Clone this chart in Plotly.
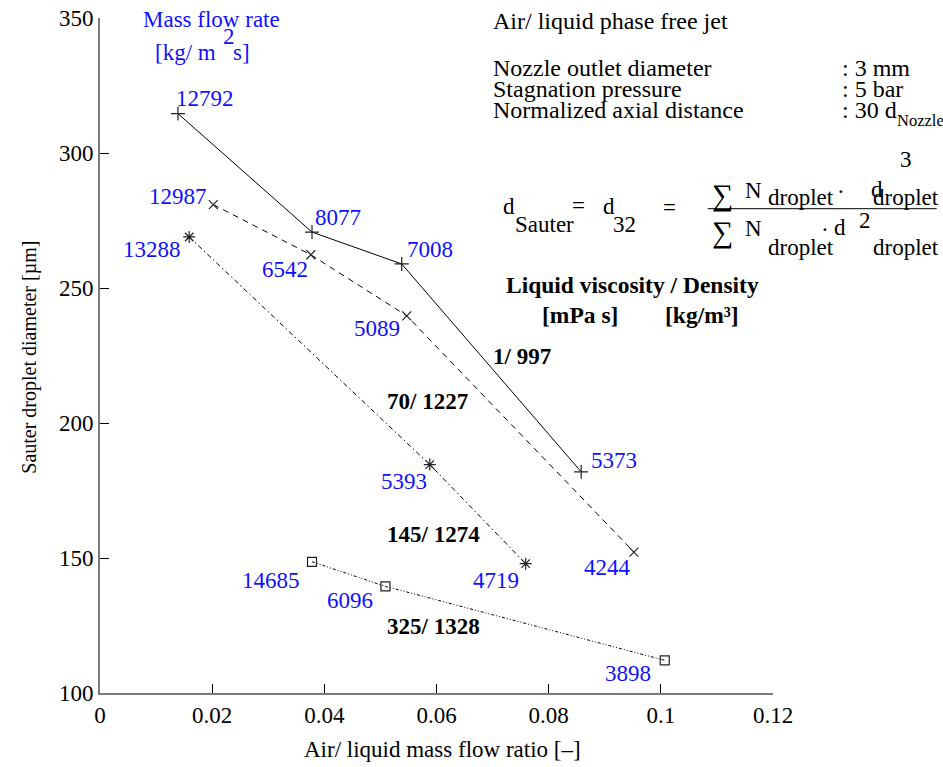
import plotly.graph_objects as go

# ---------------- data ----------------
ratio_1 = [0.0139, 0.0378, 0.0538, 0.0858]
d32_1 = [314.6, 270.7, 258.9, 181.9]
flux_1 = ["12792", "8077", "7008", "5373"]

ratio_2 = [0.0202, 0.0376, 0.0547, 0.0952]
d32_2 = [280.9, 262.3, 239.7, 152.2]
flux_2 = ["12987", "6542", "5089", "4244"]

ratio_3 = [0.0159, 0.0588, 0.0759]
d32_3 = [268.9, 184.6, 147.9]
flux_3 = ["13288", "5393", "4719"]

ratio_4 = [0.0378, 0.0509, 0.1007]
d32_4 = [148.6, 139.5, 112.1]
flux_4 = ["14685", "6096", "3898"]

fluid_labels = ["1/ 997", "70/ 1227", "145/ 1274", "325/ 1328"]

x_ticks = [0, 0.02, 0.04, 0.06, 0.08, 0.1, 0.12]
x_tick_text = ["0", "0.02", "0.04", "0.06", "0.08", "0.1", "0.12"]
y_ticks = [100, 150, 200, 250, 300, 350]

# ---------------- layout geometry ----------------
W, H = 943, 767
L, T, PW, PH = 100, 18.3, 673.3, 675.0
FONT = "Liberation Serif, Times New Roman, serif"
FS = 23
BLUE = "#1010ff"


def px(xp):
    return (xp - L) / PW


def py(yp):
    return (T + PH - yp) / PH


fig = go.Figure()

series = [
    (ratio_1, d32_1, "solid", "cross-thin", 10),
    (ratio_2, d32_2, "6px,5px", "x-thin", 9),
    (ratio_3, d32_3, "5px,3px,1.5px,3px", "asterisk", 10),
    (ratio_4, d32_4, "3px,2px,1px,2px,1px,2px", "square-open", 9),
]
for xs, ys, dash, sym, size in series:
    fig.add_trace(go.Scatter(
        x=xs, y=ys, mode="lines+markers",
        line=dict(color="black", width=1, dash=dash),
        marker=dict(symbol=sym, size=size, color="#222",
                    line=dict(color="#222", width=1.2)),
        showlegend=False, hoverinfo="skip", cliponaxis=False))

annotations = []

# data labels: offsets in pixels (dx, dy up)
label_offsets = [
    [(27, 15), (26, 15), (28, 14), (33, 11)],
    [(-35, 8), (-26, -15), (-30, -13), (-26, -15)],
    [(-37, -13), (-26, -17), (-30, -17)],
    [(-41, -19), (-35, -14), (-37, -13)],
]
for (xs, ys, labs), offs in zip(
        [(ratio_1, d32_1, flux_1), (ratio_2, d32_2, flux_2),
         (ratio_3, d32_3, flux_3), (ratio_4, d32_4, flux_4)], label_offsets):
    for x, y, lab, (dx, dy) in zip(xs, ys, labs, offs):
        annotations.append(dict(x=x, y=y, xref="x", yref="y", text=lab,
                                showarrow=False, xshift=dx, yshift=dy,
                                font=dict(family=FONT, size=FS, color=BLUE)))


def txt(text, x, y, xanchor="left", size=FS, color="black", bold=False, angle=0):
    if bold:
        text = "<b>" + text + "</b>"
    annotations.append(dict(x=px(x), y=py(y), xref="paper", yref="paper",
                            text=text, showarrow=False, xanchor=xanchor,
                            yanchor="middle", textangle=angle,
                            font=dict(family=FONT, size=size, color=color)))


# fluid labels (bold)
fluid_pos = [(522, 357), (428, 402), (434, 535), (434, 627)]
for lab, (x, y) in zip(fluid_labels, fluid_pos):
    txt(lab, x, y, xanchor="center", bold=True)

txt("Liquid viscosity / Density", 633, 285, xanchor="center", bold=True, size=23.5)
txt("[mPa s]", 580, 315, xanchor="center", bold=True, size=23.5)
txt("[kg/m³]", 702, 315, xanchor="center", bold=True, size=23.5)

# mass flow rate header
txt("Mass flow rate", 212, 20, xanchor="center", color=BLUE)
txt("[kg/ m", 153, 53, color=BLUE)
txt("2", 221, 37, color=BLUE)
txt("s]", 231, 53, color=BLUE)

# info block
IS = 24
txt("Air/ liquid phase free jet", 491, 21, size=IS)
txt("Nozzle outlet diameter", 491, 68, size=IS)
txt("Stagnation pressure", 491, 89, size=IS)
txt("Normalized axial distance", 491, 110, size=IS)
txt(": 3 mm", 840, 68, size=IS)
txt(": 5 bar", 840, 89, size=IS)
txt(": 30 d", 840, 110, size=IS)
txt("Nozzle", 895, 121, size=16.5)

# formula
txt("d", 501, 207)
txt("Sauter", 513, 225)
txt("=", 570, 206)
txt("d", 601, 207)
txt("32", 611, 225)
txt("=", 661, 208)
txt("∑", 710, 195, size=30)
txt("N", 743, 191)
txt("droplet", 766, 198)
txt(".", 836, 186)
txt("d", 869, 190)
txt("3", 898, 160)
txt("droplet", 871, 198)
txt("∑", 710, 232, size=30)
txt("N", 743, 229)
txt("droplet", 766, 248)
txt(".", 820, 224)
txt("d", 832, 228)
txt("2", 857, 221)
txt("droplet", 871, 248)

# axis titles
txt("Air/ liquid mass flow ratio [–]", 443, 750, xanchor="center")
txt("Sauter droplet diameter [µm]", 30, 358, xanchor="center", size=20, angle=-90)

shapes = [dict(type="line", xref="paper", yref="paper",
               x0=px(708), x1=px(937), y0=py(209), y1=py(209),
               line=dict(color="black", width=1))]

axis_common = dict(showgrid=False, zeroline=False, showline=True,
                   linecolor="#7a7a7a", linewidth=2, ticks="inside",
                   ticklen=9, tickwidth=1, tickcolor="black", mirror=False,
                   automargin=False,
                   tickfont=dict(family=FONT, size=FS, color="black"))

fig.update_layout(
    width=W, height=H,
    margin=dict(l=L, r=W - L - PW, t=T, b=H - T - PH, autoexpand=False),
    paper_bgcolor="white", plot_bgcolor="white",
    xaxis=dict(range=[0, 0.12], tickvals=x_ticks, ticktext=x_tick_text,
               **axis_common),
    yaxis=dict(range=[100, 350], tickvals=y_ticks, **axis_common),
    annotations=annotations, shapes=shapes,
)

fig.write_html("out.html",
               config={"displayModeBar": False},
               post_script="document.body.style.margin='0';"
                           "document.body.style.overflow='hidden';")
